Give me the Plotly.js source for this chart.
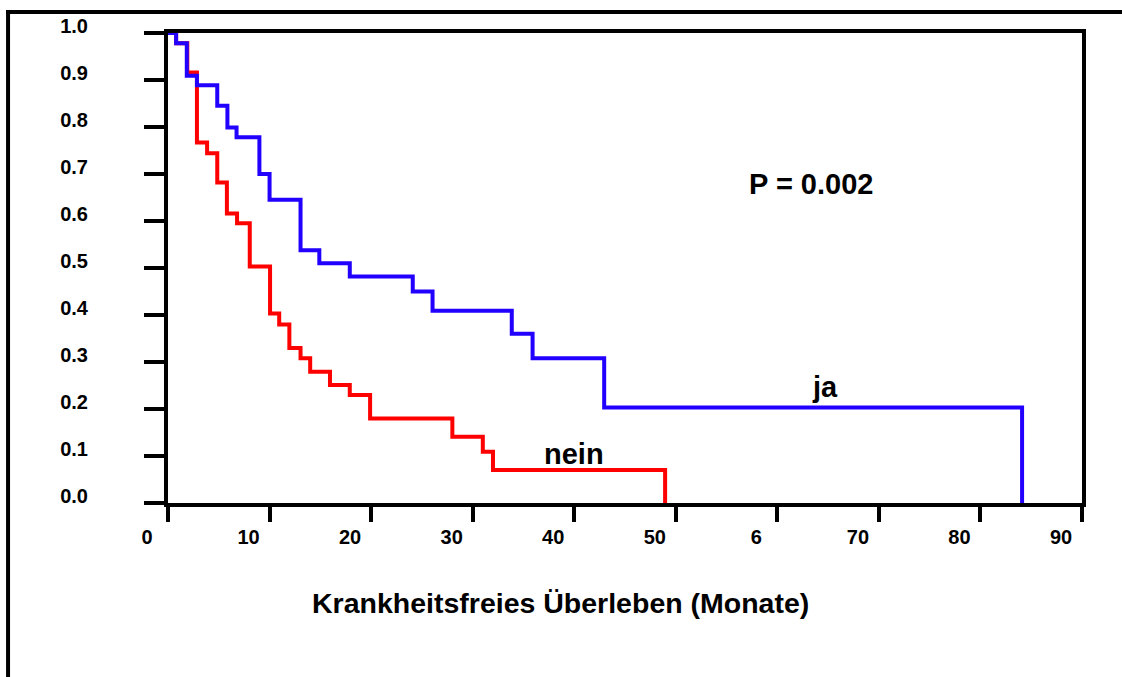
<!DOCTYPE html>
<html>
<head>
<meta charset="utf-8">
<script src="https://cdn.plot.ly/plotly-3.0.1.min.js"></script>
<style>
  html, body { margin: 0; padding: 0; background: #fff; }
  #chart { width: 1122px; height: 677px; }
</style>
</head>
<body>
<div id="chart"></div>
<script>
// Kaplan-Meier step data (months, survival proportion)
const monthsJa = [0, 0.8, 1.85, 2.85, 4.85, 5.85, 6.75, 9.0, 10.0, 13.05, 14.9, 17.9, 24.1, 26.05, 33.85, 35.9, 42.95, 84.1];
const survJa   = [1.0, 0.978, 0.909, 0.889, 0.845, 0.799, 0.778, 0.700, 0.645, 0.538, 0.510, 0.482, 0.450, 0.409, 0.360, 0.308, 0.203, 0.0];

const monthsNein = [0, 0.8, 1.9, 2.85, 3.85, 4.85, 5.8, 6.8, 8.05, 10.05, 10.95, 11.95, 13.05, 14.0, 15.95, 17.9, 19.9, 28.0, 31.0, 32.0, 48.95];
const survNein   = [1.0, 0.978, 0.916, 0.767, 0.744, 0.682, 0.616, 0.595, 0.503, 0.403, 0.380, 0.330, 0.308, 0.279, 0.251, 0.230, 0.180, 0.141, 0.109, 0.070, 0.0];

const xTickVals = [0, 10, 20, 30, 40, 50, 60, 70, 80, 90];
const xTickText = ['0', '10', '20', '30', '40', '50', '6', '70', '80', '90'];
const yTickVals = [0, 0.1, 0.2, 0.3, 0.4, 0.5, 0.6, 0.7, 0.8, 0.9, 1.0];
const yTickText = ['0.0', '0.1', '0.2', '0.3', '0.4', '0.5', '0.6', '0.7', '0.8', '0.9', '1.0'];

const groupNames = ['nein', 'ja'];
const pText = 'P = 0.002';
const xTitle = 'Krankheitsfreies Überleben (Monate)';

const FONT = 'Liberation Sans, Arial, Helvetica, sans-serif';

const traces = [
  {
    x: monthsNein, y: survNein, type: 'scatter', mode: 'lines', name: groupNames[0],
    line: { shape: 'hv', color: '#ff0000', width: 4 }, hoverinfo: 'skip'
  },
  {
    x: monthsJa, y: survJa, type: 'scatter', mode: 'lines', name: groupNames[1],
    line: { shape: 'hv', color: '#2200ff', width: 4 }, hoverinfo: 'skip'
  }
];

const layout = {
  width: 1122, height: 677,
  margin: { l: 168, r: 40, t: 33, b: 174, pad: 0 },
  paper_bgcolor: '#ffffff', plot_bgcolor: '#ffffff',
  showlegend: false,
  font: { family: FONT, color: '#000', weight: 'bold' },
  xaxis: {
    range: [0, 90], fixedrange: true,
    tickmode: 'array', tickvals: xTickVals, ticktext: xTickText,
    ticks: 'outside', ticklen: 15, tickwidth: 4, tickcolor: '#000',
    showline: true, linewidth: 4, linecolor: '#000', mirror: true,
    showgrid: false, zeroline: false,
    tickfont: { family: FONT, size: 20, color: '#000', weight: 'bold' },
    ticklabelshift: -21, ticklabelstandoff: -2
  },
  yaxis: {
    range: [0, 1], fixedrange: true,
    tickmode: 'array', tickvals: yTickVals, ticktext: yTickText,
    ticks: 'outside', ticklen: 20, tickwidth: 4, tickcolor: '#000',
    showline: true, linewidth: 4, linecolor: '#000', mirror: true,
    showgrid: false, zeroline: false,
    tickfont: { family: FONT, size: 20, color: '#000', weight: 'bold' },
    ticklabelshift: -7, ticklabelstandoff: 52
  },
  annotations: [
    { x: 63.3, y: 0.678, xref: 'x', yref: 'y', xanchor: 'center', yanchor: 'middle', text: pText, showarrow: false,
      font: { family: FONT, size: 29, color: '#000', weight: 'bold' } },
    { x: 40.0, y: 0.105, xref: 'x', yref: 'y', xanchor: 'center', yanchor: 'middle', text: groupNames[0], showarrow: false,
      font: { family: FONT, size: 29, color: '#000', weight: 'bold' } },
    { x: 64.7, y: 0.247, xref: 'x', yref: 'y', xanchor: 'center', yanchor: 'middle', text: groupNames[1], showarrow: false,
      font: { family: FONT, size: 29, color: '#000', weight: 'bold' } },
    { x: 0.4289, y: -0.2128, xref: 'paper', yref: 'paper', xanchor: 'center', yanchor: 'middle', text: xTitle, showarrow: false,
      font: { family: FONT, size: 28.5, color: '#000', weight: 'bold' } }
  ],
  shapes: [
    { type: 'line', xref: 'paper', yref: 'paper', x0: -0.1772, x1: 1.05, y0: 1.0447, y1: 1.0447,
      line: { color: '#000', width: 4 } },
    { type: 'line', xref: 'paper', yref: 'paper', x0: -0.175, x1: -0.175, y0: 1.049, y1: -0.38,
      line: { color: '#000', width: 4 } }
  ]
};

Plotly.newPlot('chart', traces, layout, { staticPlot: true, displayModeBar: false });
</script>
</body>
</html>
